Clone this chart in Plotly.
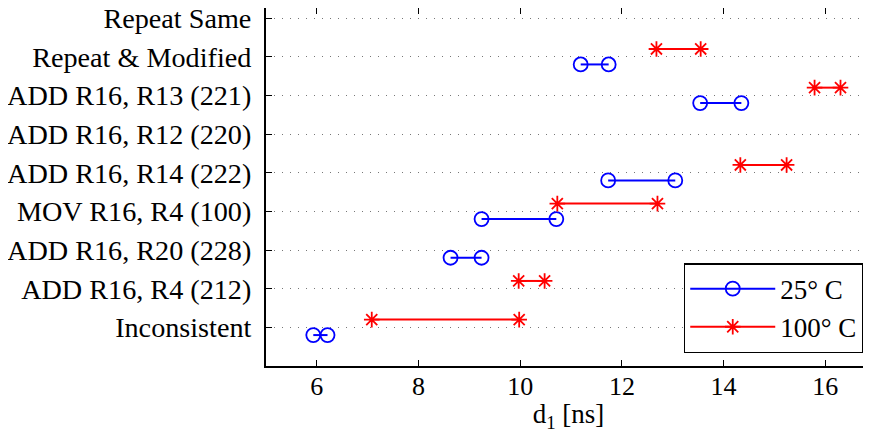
import plotly.graph_objects as go

categories = ["Inconsistent", "ADD R16, R4 (212)", "ADD R16, R20 (228)",
              "MOV R16, R4 (100)", "ADD R16, R14 (222)", "ADD R16, R12 (220)",
              "ADD R16, R13 (221)", "Repeat & Modified", "Repeat Same"]
t25_lo = [5.93, None, 8.63, 9.24, 11.73, None, 13.54, 11.19, None]
t25_hi = [6.21, None, 9.24, 10.71, 13.05, None, 14.35, 11.74, None]
t100_lo = [7.08, 9.97, None, 10.73, 14.33, None, 15.79, 12.68, None]
t100_hi = [9.98, 10.48, None, 12.70, 15.24, None, 16.30, 13.55, None]
x_ticks = [6, 8, 10, 12, 14, 16]

FONT = "Liberation Serif, Times New Roman, serif"


def segs(lo, hi, offset):
    xs, ys = [], []
    for i, (a, b) in enumerate(zip(lo, hi)):
        if a is None:
            continue
        y = i + 1 + offset
        xs += [a, b, None]
        ys += [y, y, None]
    return xs, ys


fig = go.Figure()
x1, y1 = segs(t25_lo, t25_hi, -0.2)
fig.add_trace(go.Scatter(
    x=x1, y=y1, mode="lines+markers", name="25° C",
    line=dict(color="#0000FF", width=2),
    marker=dict(symbol="circle-open", size=14, color="#0000FF",
                line=dict(color="#0000FF", width=1.8)),
))
x2, y2 = segs(t100_lo, t100_hi, 0.2)
fig.add_trace(go.Scatter(
    x=x2, y=y2, mode="lines+markers", name="100° C",
    line=dict(color="#FF0000", width=2),
    marker=dict(symbol="asterisk-open", size=13, color="#FF0000",
                line=dict(color="#FF0000", width=1.8)),
))

fig.update_layout(
    width=863, height=425,
    margin=dict(l=258, r=0, t=0, b=67, autoexpand=False),
    paper_bgcolor="white", plot_bgcolor="white",
    font=dict(family=FONT, size=28, color="black"),
    showlegend=True,
    legend=dict(x=0.988, y=0.036, xanchor="right", yanchor="bottom",
                bgcolor="white", bordercolor="black", borderwidth=1.5,
                font=dict(family=FONT, size=27, color="black"),
                tracegroupgap=0, itemwidth=85),
    xaxis=dict(
        automargin=False,
        range=[5, 16.9], tickvals=x_ticks, ticktext=[str(v) for v in x_ticks],
        ticks="inside", ticklen=6, tickcolor="black", tickwidth=1,
        showline=True, linecolor="black", linewidth=2, mirror="ticks",
        showgrid=False, zeroline=False, ticklabelstandoff=-4,
        title=dict(text="d<sub>1</sub> [ns]", standoff=15,
                   font=dict(family=FONT, size=27)),
        tickfont=dict(family=FONT, size=26),
    ),
    yaxis=dict(
        automargin=False,
        range=[0, 9.26], tickvals=list(range(1, len(categories) + 1)),
        ticktext=categories, ticklabeloverflow="allow",
        ticks="inside", ticklen=6, tickcolor="black", tickwidth=1,
        showline=True, linecolor="black", linewidth=2, mirror="ticks",
        showgrid=True, gridcolor="#777777", gridwidth=1.2, griddash="1px,7px",
        zeroline=False, ticklabelstandoff=7,
        tickfont=dict(family=FONT, size=28.2),
    ),
)

fig.write_html("out.html")
